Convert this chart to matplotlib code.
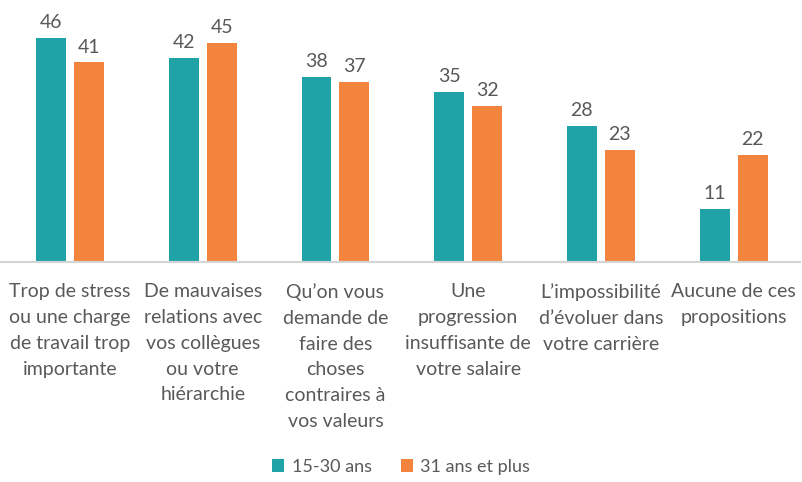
import matplotlib.pyplot as plt
import numpy as np

# data
categories = [
    "Trop de stress\nou une charge\nde travail trop\nimportante",
    "De mauvaises\nrelations avec\nvos collègues\nou votre\nhiérarchie",
    "Qu\u2019on vous\ndemande de\nfaire des\nchoses\ncontraires à\nvos valeurs",
    "Une\nprogression\ninsuffisante de\nvotre salaire",
    "L\u2019impossibilité\nd\u2019évoluer dans\nvotre carrière",
    "Aucune de ces\npropositions",
]
young = [46, 42, 38, 35, 28, 11]
older = [41, 45, 37, 32, 23, 22]
series_names = ["15-30 ans", "31 ans et plus"]

TEAL, ORANGE = '#1fa3a6', '#f3843e'
TEXT, AXIS = '#595959', '#d4d4d4'

plt.rcParams['font.family'] = ['Lato', 'DejaVu Sans']

fig = plt.figure(figsize=(8.02, 4.82), dpi=100)
ax = fig.add_axes([0, 0.456, 800 / 802, 0.544])

x = np.arange(len(categories))
w = 0.225
off = 0.143
b1 = ax.bar(x - off, young, w, color=TEAL, label=series_names[0])
b2 = ax.bar(x + off, older, w, color=ORANGE, label=series_names[1])

for bars in (b1, b2):
    for r in bars:
        ax.text(r.get_x() + r.get_width() / 2, r.get_height() + 1.4,
                f"{r.get_height():.0f}", ha='center', va='bottom',
                fontsize=14, color=TEXT)

ax.set_xlim(-0.527, len(categories) - 0.5)
ax.set_ylim(0, 53.8)
ax.set_yticks([])
ax.set_xticks(x)
ax.set_xticklabels(categories, fontsize=14, color=TEXT, linespacing=1.63)
ax.tick_params(axis='x', length=0, pad=15)
for s in ('top', 'right', 'left'):
    ax.spines[s].set_visible(False)
ax.spines['bottom'].set_color(AXIS)
ax.spines['bottom'].set_linewidth(1.5)
ax.set_facecolor('none')

fig.legend(handles=[b1, b2], labels=series_names, loc='center',
           bbox_to_anchor=(0.5, 1 - 467 / 482), ncol=2, frameon=False,
           fontsize=13, labelcolor=TEXT, handlelength=0.7, handleheight=0.7,
           handletextpad=0.4, columnspacing=1.6)

fig.savefig('out.png', dpi=100, facecolor='white')
